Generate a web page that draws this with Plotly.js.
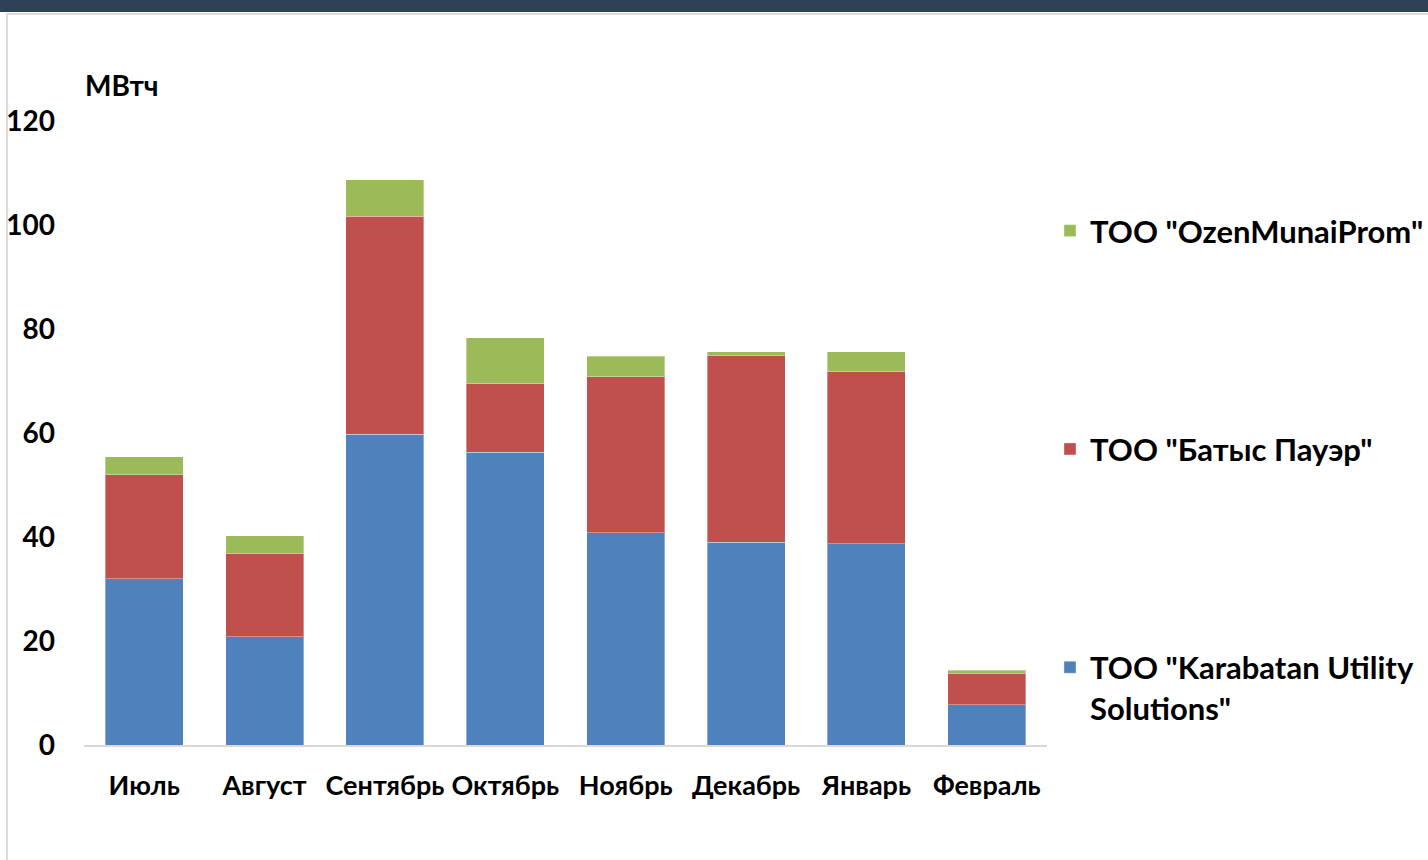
<!DOCTYPE html>
<html>
<head>
<meta charset="utf-8">
<script src="https://cdn.plot.ly/plotly-3.0.1.min.js"></script>
<style>
  html, body { margin: 0; padding: 0; background: #ffffff; width: 1428px; height: 860px; overflow: hidden; }
  #chart { position: absolute; left: 0; top: 0; width: 1428px; height: 860px; }
  #band { position: absolute; left: 0; top: 0; width: 1428px; height: 12px; background: #2c4257; z-index: 5; }
  #frame { position: absolute; left: 6px; top: 13px; width: 1440px; height: 900px; border-left: 2px solid #dcdcdc; border-top: 2px solid #dcdcdc; z-index: 4; pointer-events: none; }
</style>
</head>
<body>
<div id="band"></div>
<div id="frame"></div>
<div id="chart"></div>
<script>
const months = ["Июль", "Август", "Сентябрь", "Октябрь", "Ноябрь", "Декабрь", "Январь", "Февраль"];
const seriesNames = ['ТОО "Karabatan Utility<br>Solutions"', 'ТОО "Батыс Пауэр"', 'ТОО "OzenMunaiProm"'];
const karabatan = [32.0, 20.8, 59.8, 56.3, 40.8, 39.0, 38.7, 7.7];
const batys = [20.0, 16.1, 41.9, 13.3, 30.0, 36.0, 33.2, 6.1];
const ozen = [3.4, 3.3, 7.0, 8.7, 4.0, 0.6, 3.7, 0.6];
const yTicks = [0, 20, 40, 60, 80, 100, 120];
const unitLabel = "МВтч";

const FONT = "Lato, 'Open Sans', sans-serif";
const colors = ["#4F81BD", "#C0504D", "#9BBB59"];
const values = [karabatan, batys, ozen];
const ranks = [3, 2, 1];

const traces = values.map((v, i) => ({
  type: "bar",
  x: months,
  y: v,
  name: seriesNames[i],
  legendgroup: "g" + i,
  legendrank: ranks[i],
  marker: { color: colors[i], line: { color: "rgba(255,255,255,0.35)", width: 1 } },
  hoverinfo: "x+y+name"
}));

const layout = {
  width: 1428,
  height: 860,
  margin: { l: 84, r: 381, t: 121, b: 115, autoexpand: false },
  paper_bgcolor: "rgba(0,0,0,0)",
  plot_bgcolor: "rgba(0,0,0,0)",
  barmode: "stack",
  bargap: 0.352,
  font: { family: FONT, color: "#000000", size: 24, weight: "bold" },
  xaxis: {
    type: "category",
    showgrid: false,
    showline: true,
    linecolor: "#d9d9d9",
    linewidth: 2,
    ticks: "",
    tickangle: 0,
    automargin: false,
    ticklabelstandoff: 16,
    tickfont: { family: FONT, size: 27, color: "#000", weight: "bold" },
    fixedrange: true
  },
  yaxis: {
    range: [0, 120],
    tickvals: yTicks,
    ticktext: yTicks.map(String),
    showgrid: false,
    zeroline: false,
    showline: false,
    ticks: "",
    automargin: false,
    ticklabelstandoff: 28,
    tickfont: { family: FONT, size: 28, color: "#000", weight: "bold" },
    fixedrange: true
  },
  showlegend: true,
  legend: {
    x: 1.0031,
    xanchor: "left",
    y: 0.867,
    yanchor: "top",
    traceorder: "grouped",
    tracegroupgap: 175,
    valign: "top",
    font: { family: FONT, size: 31, color: "#000", weight: "bold" },
    bgcolor: "rgba(0,0,0,0)"
  },
  annotations: [{
    text: unitLabel,
    xref: "paper", yref: "paper",
    x: -0.001, y: 1.058,
    xanchor: "left", yanchor: "middle",
    showarrow: false,
    font: { family: FONT, size: 28, color: "#000", weight: "bold" }
  }]
};

Plotly.newPlot("chart", traces, layout, { displayModeBar: false, staticPlot: true });
</script>
</body>
</html>
